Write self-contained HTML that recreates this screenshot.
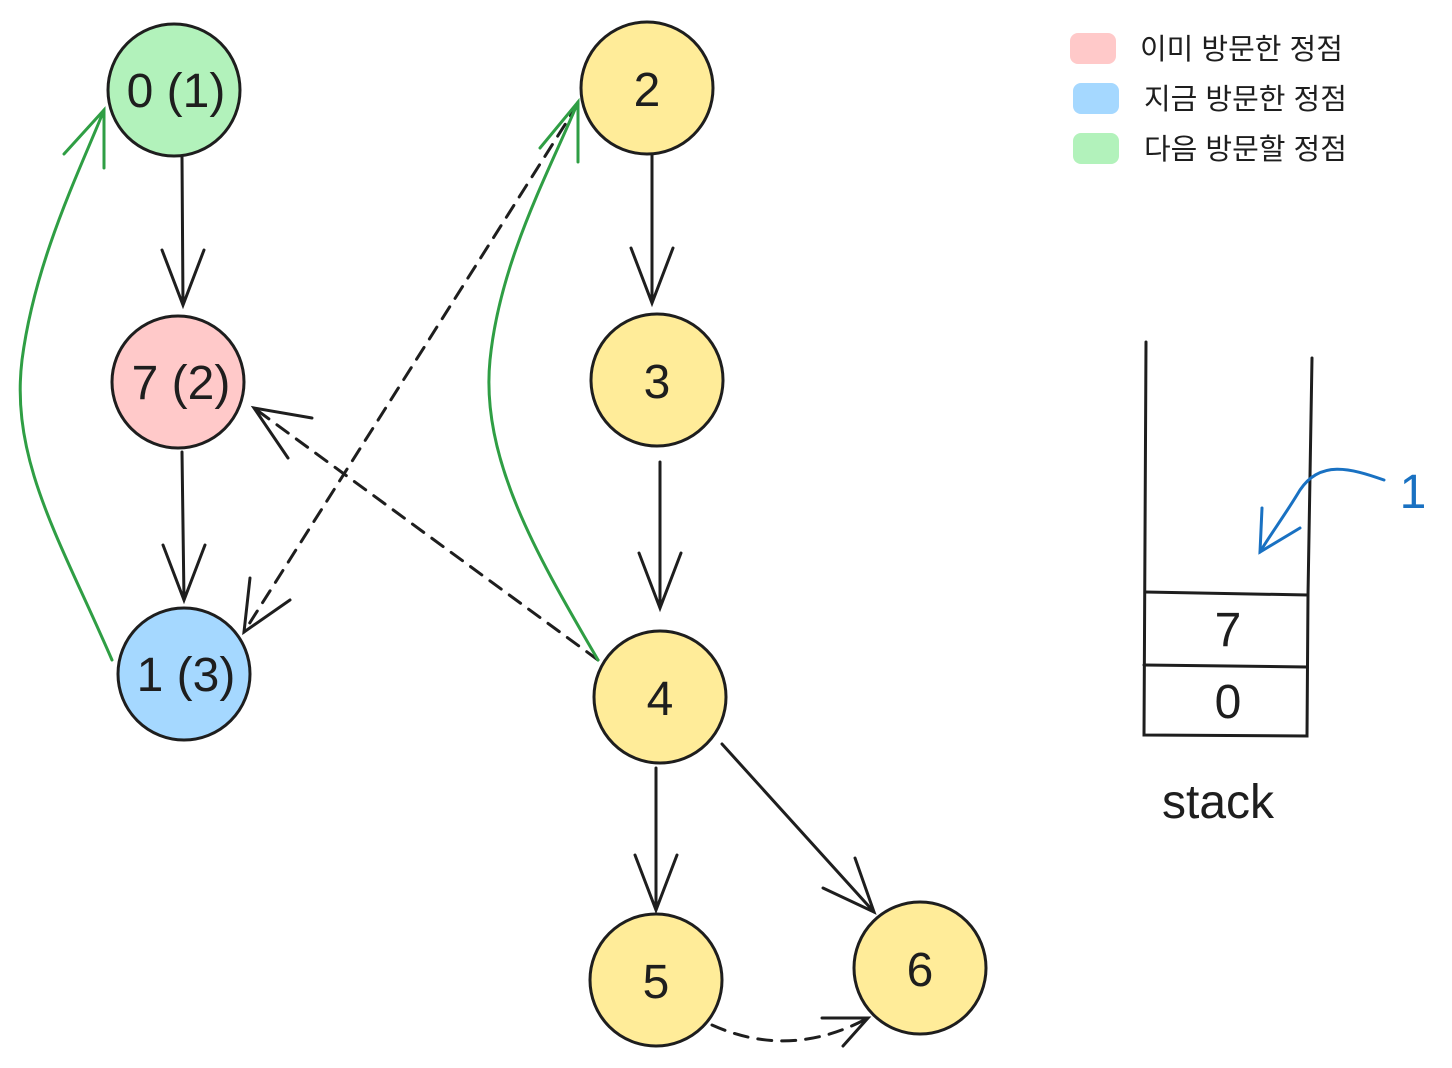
<!DOCTYPE html>
<html><head><meta charset="utf-8"><style>
html,body{margin:0;padding:0;background:#fff;}
svg{display:block}
text{font-family:"Liberation Sans","Noto Sans CJK KR",sans-serif;fill:#1e1e1e}
</style></head><body>
<svg width="1452" height="1068" viewBox="0 0 1452 1068" xmlns="http://www.w3.org/2000/svg">
<g fill="none" stroke="#1e1e1e" stroke-width="3" stroke-linecap="round">
 <!-- solid edges -->
 <path d="M182 157 L183 305 M162 250 L183 305 L204 250"/>
 <path d="M182 452 L184 600 M163 545 L184 600 L205 545"/>
 <path d="M652 155 L652 303 M631 248 L652 303 L673 248"/>
 <path d="M660 462 L660 608 M639 553 L660 608 L681 553"/>
 <path d="M656 768 L656 910 M635 855 L656 910 L677 855"/>
 <path d="M722 744 L874 912 M823 888 L874 912 L855 858"/>
 <!-- dashed -->
 <path d="M598 660 L254 408" stroke-dasharray="14 10"/>
 <path d="M288 458 L254 408 L312 418"/>
 <path d="M578 104 L244 632" stroke-dasharray="14 10"/>
 <path d="M250 578 L244 632 L290 600"/>
 <path d="M712 1025 Q790 1060 868 1018" stroke-dasharray="14 10"/>
 <path d="M822 1018 L868 1018 L843 1046"/>
</g>
<g fill="none" stroke="#2f9e44" stroke-width="3" stroke-linecap="round">
 <path d="M112 660 C60 540 10 460 22 360 C35 260 80 170 104 110"/>
 <path d="M64 154 L104 110 L104 168"/>
 <path d="M598 660 C540 560 480 460 490 360 C500 260 550 170 578 102"/>
 <path d="M540 148 L578 102 L578 162"/>
</g>
<!-- nodes -->
<g stroke="#1e1e1e" stroke-width="3">
 <circle cx="174" cy="90" r="66" fill="#b2f2bb"/>
 <circle cx="178" cy="382" r="66" fill="#ffc9c9"/>
 <circle cx="184" cy="674" r="66" fill="#a5d8ff"/>
 <circle cx="647" cy="88" r="66" fill="#ffec99"/>
 <circle cx="657" cy="380" r="66" fill="#ffec99"/>
 <circle cx="660" cy="697" r="66" fill="#ffec99"/>
 <circle cx="656" cy="980" r="66" fill="#ffec99"/>
 <circle cx="920" cy="968" r="66" fill="#ffec99"/>
</g>
<g font-size="48" text-anchor="middle">
 <text x="176" y="107">0 (1)</text>
 <text x="181" y="399">7 (2)</text>
 <text x="186" y="691">1 (3)</text>
 <text x="647" y="106">2</text>
 <text x="657" y="398">3</text>
 <text x="660" y="715">4</text>
 <text x="656" y="998">5</text>
 <text x="920" y="986">6</text>
</g>
<!-- legend -->
<rect x="1070" y="33" width="46" height="31" rx="8" fill="#ffc9c9"/>
<rect x="1073" y="83" width="46" height="31" rx="8" fill="#a5d8ff"/>
<rect x="1073" y="133" width="46" height="31" rx="8" fill="#b2f2bb"/>
<g font-size="29">
 <text x="1140" y="59">이미 방문한 정점</text>
 <text x="1144" y="109">지금 방문한 정점</text>
 <text x="1144" y="159">다음 방문할 정점</text>
</g>
<!-- stack -->
<g fill="none" stroke="#1e1e1e" stroke-width="3" stroke-linecap="round">
 <path d="M1146 342 L1144 735 L1307 736 L1308 595 L1312 358"/>
 <path d="M1145 592 L1308 595 M1144 665 L1307 667"/>
</g>
<text x="1228" y="646" font-size="48" text-anchor="middle">7</text>
<text x="1228" y="718" font-size="48" text-anchor="middle">0</text>
<text x="1218" y="818" font-size="48" text-anchor="middle">stack</text>
<g fill="none" stroke="#1971c2" stroke-width="3" stroke-linecap="round">
 <path d="M1384 480 C1350 468 1320 460 1300 490 C1285 515 1270 535 1260 552"/>
 <path d="M1262 508 L1260 552 L1300 528"/>
</g>
<text x="1413" y="508" font-size="48" text-anchor="middle" style="fill:#1971c2">1</text>
</svg>
</body></html>
